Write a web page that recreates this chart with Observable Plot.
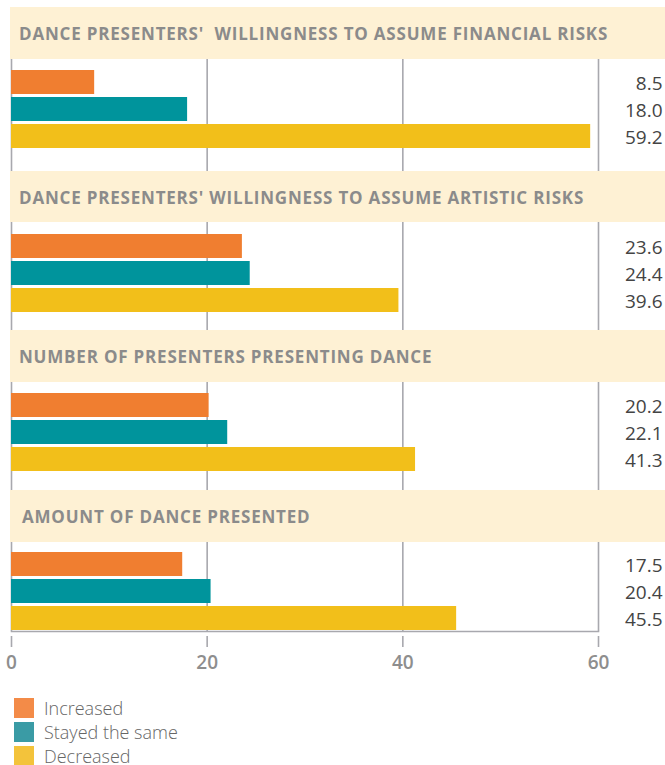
<!DOCTYPE html>
<html>
<head>
<meta charset="utf-8">
<script src="https://cdn.jsdelivr.net/npm/d3@7"></script>
<script src="https://cdn.jsdelivr.net/npm/@observablehq/plot@0.6"></script>
<style>
  html, body { margin: 0; padding: 0; background: #ffffff; }
  #root { width: 665px; padding-top: 7px; font-family: "Open Sans", sans-serif; }
  .hdr {
    margin-left: 10px; width: 655px; box-sizing: border-box;
    background: #fef1d4; display: flex; align-items: center;
    padding-left: 9px; font-weight: 700; font-size: 17px; color: #8b8b8b;
    white-space: pre; letter-spacing: 0.8px; padding-top: 1px;
  }
  svg { display: block; }
  .legend { margin-top: 31px; margin-left: 14px; }
  .legend .row { display: flex; align-items: center; height: 20px; margin-bottom: 4px; }
  .legend .sw { width: 20px; height: 20px; margin-right: 10px; }
  .legend .lab { font-size: 18px; font-weight: 300; color: #666666; line-height: 15px; }
</style>
</head>
<body>
<div id="root"></div>
<script>
// ---- data ----
const panelTitles = [
  "DANCE PRESENTERS'  WILLINGNESS TO ASSUME FINANCIAL RISKS",
  "DANCE PRESENTERS' WILLINGNESS TO ASSUME ARTISTIC RISKS",
  "NUMBER OF PRESENTERS PRESENTING DANCE",
  "AMOUNT OF DANCE PRESENTED"
];
const seriesNames = ["Increased", "Stayed the same", "Decreased"];
const increased = [8.5, 23.6, 20.2, 17.5];
const stayedSame = [18.0, 24.4, 22.1, 20.4];
const decreased = [59.2, 39.6, 41.3, 45.5];
const xTicks = [0, 20, 40, 60];

// ---- style / layout ----
const barColors = ["#f07e30", "#00949c", "#f2bf1a"];
const legendColors = ["#f38b48", "#3a9ba5", "#f3c33b"];
const gridColor = "#a8a8ae";
const headerHeights = [52, 51, 52, 52];
const panelLayout = [
  {height: 112, insetTop: 10, insetBottom: 22},
  {height: 108, insetTop: 11, insetBottom: 17},
  {height: 108, insetTop: 11, insetBottom: 18},
  {height: 89,  insetTop: 10, insetBottom: 0}
];

const root = document.getElementById("root");
const seriesValues = [increased, stayedSame, decreased];

panelTitles.forEach((title, i) => {
  const hdr = document.createElement("div");
  hdr.className = "hdr";
  hdr.style.height = headerHeights[i] + "px";
  if (i === 3) hdr.style.paddingLeft = "12px";
  hdr.textContent = title;
  root.appendChild(hdr);

  const rows = seriesNames.map((s, j) => ({series: s, value: seriesValues[j][i]}));
  const last = i === panelTitles.length - 1;
  const lay = panelLayout[i];
  const mb = last ? 36 : 0;

  const marks = [
    Plot.ruleX(xTicks, {stroke: gridColor, strokeWidth: 1.6}),
    Plot.barX(rows, {x: "value", y: "series", fill: "series"}),
    Plot.text(rows, {
      y: "series", text: d => d.value.toFixed(1),
      frameAnchor: "right", textAnchor: "end", dx: 64, dy: 1.5,
      fill: "#444444", fontSize: 19, fontWeight: 400
    })
  ];
  if (last) {
    marks.push(Plot.frame({anchor: "bottom", stroke: gridColor, strokeWidth: 1.6}));
    marks.push(Plot.axisX(xTicks, {
      anchor: "bottom", tickSize: 11, tickPadding: 8, dy: 5, label: null,
      stroke: gridColor, strokeWidth: 1.6,
      fill: "#8e8e8e", fontSize: 19, fontWeight: 600
    }));
  }

  const chart = Plot.plot({
    width: 665,
    height: lay.height + mb,
    marginLeft: 11, marginRight: 67, marginTop: 0, marginBottom: mb,
    style: {fontFamily: "Open Sans, sans-serif", background: "transparent", overflow: "visible"},
    x: {domain: [0, 60], axis: null},
    y: {domain: seriesNames, paddingInner: 0.1, paddingOuter: 0,
        insetTop: lay.insetTop, insetBottom: lay.insetBottom, axis: null},
    color: {domain: seriesNames, range: barColors},
    marks
  });
  root.appendChild(chart);
});

const legend = document.createElement("div");
legend.className = "legend";
seriesNames.forEach((s, j) => {
  const row = document.createElement("div");
  row.className = "row";
  const sw = document.createElement("div");
  sw.className = "sw";
  sw.style.background = legendColors[j];
  const lab = document.createElement("div");
  lab.className = "lab";
  lab.textContent = s;
  row.appendChild(sw); row.appendChild(lab);
  legend.appendChild(row);
});
root.appendChild(legend);
</script>
</body>
</html>
